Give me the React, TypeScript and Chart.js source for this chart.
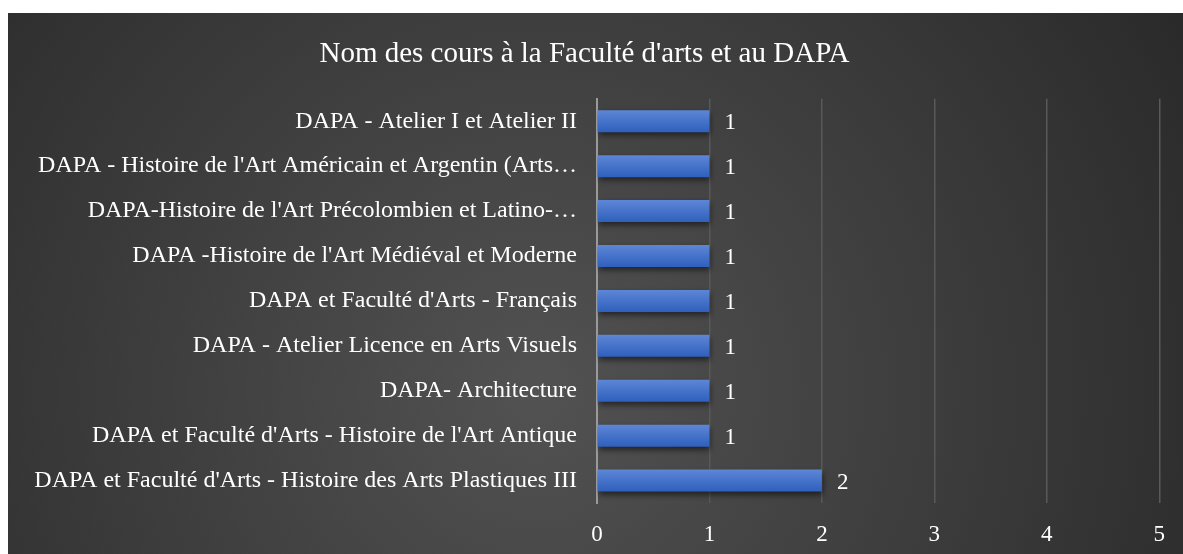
import React, { useEffect, useRef } from "react";
import { Chart, registerables } from "chart.js";

Chart.register(...registerables);

const categories = [
  "DAPA - Atelier I et Atelier II",
  "DAPA - Histoire de l'Art Américain et Argentin (Arts…",
  "DAPA-Histoire de l'Art Précolombien et Latino-…",
  "DAPA -Histoire de l'Art Médiéval et Moderne",
  "DAPA et Faculté d'Arts - Français",
  "DAPA - Atelier Licence en Arts Visuels",
  "DAPA- Architecture",
  "DAPA et Faculté d'Arts - Histoire de l'Art Antique",
  "DAPA et Faculté d'Arts - Histoire des Arts Plastiques III",
];
const values = [1, 1, 1, 1, 1, 1, 1, 1, 2];
const xTicks = [0, 1, 2, 3, 4, 5];
const title = "Nom des cours à la Faculté d'arts et au DAPA";

const FONT = "'Liberation Serif', 'Times New Roman', serif";

const bgPlugin = {
  id: "bg",
  beforeDraw(chart: any) {
    const { ctx, width, height } = chart;
    ctx.save();
    const g = ctx.createRadialGradient(width * 0.45, height * 0.7, 0, width * 0.45, height * 0.7, width * 0.7);
    g.addColorStop(0, "#525252");
    g.addColorStop(1, "#262626");
    ctx.fillStyle = g;
    ctx.fillRect(0, 0, width, height);
    ctx.restore();
  },
  beforeDatasetsDraw(chart: any) {
    const ctx = chart.ctx;
    ctx.save();
    ctx.shadowColor = "rgba(0,0,0,0.55)";
    ctx.shadowBlur = 6;
    ctx.shadowOffsetY = 3;
    ctx.shadowOffsetX = 1;
  },
  afterDatasetsDraw(chart: any) {
    const ctx = chart.ctx;
    ctx.restore();
    const meta = chart.getDatasetMeta(0);
    ctx.save();
    ctx.fillStyle = "#ffffff";
    ctx.font = `23px ${FONT}`;
    ctx.textAlign = "left";
    ctx.textBaseline = "middle";
    meta.data.forEach((bar: any, i: number) => {
      ctx.fillText(String(values[i]), bar.x + 15, bar.y + 2);
    });
    ctx.restore();
  },
};

export default function App() {
  const ref = useRef<HTMLCanvasElement>(null);
  useEffect(() => {
    if (!ref.current) return;
    const chart = new Chart(ref.current, {
      type: "bar",
      data: {
        labels: categories,
        datasets: [
          {
            data: values,
            backgroundColor: (c: any) => {
              const ch = c.chart;
              const ys = ch.scales?.y;
              if (!ys || c.dataIndex === undefined) return "#4472c4";
              const y = ys.getPixelForValue(c.dataIndex);
              if (!isFinite(y)) return "#4472c4";
              const g = ch.ctx.createLinearGradient(0, y - 11, 0, y + 11);
              g.addColorStop(0, "#5d86d6");
              g.addColorStop(1, "#2f60bd");
              return g;
            },
            borderWidth: 0,
            barPercentage: 1,
            categoryPercentage: 0.49,
          },
        ],
      },
      options: {
        indexAxis: "y",
        animation: false,
        responsive: false,
        layout: { padding: { left: 0, right: 22, top: 0, bottom: 0 } },
        plugins: {
          legend: { display: false },
          tooltip: { enabled: false },
          title: {
            display: true,
            text: title,
            color: "#ffffff",
            font: { family: FONT, size: 29, weight: "normal" },
            padding: { top: 24, bottom: 27 },
          },
        },
        scales: {
          x: {
            min: 0,
            max: 5,
            afterBuildTicks: (s: any) => {
              s.ticks = xTicks.map((v) => ({ value: v }));
            },
            afterFit: (s: any) => {
              s.height = 51;
            },
            grid: { color: "#595959", lineWidth: 1.5, drawTicks: false },
            border: { display: false },
            ticks: { color: "#ffffff", font: { family: FONT, size: 23 }, padding: 18 },
          },
          y: {
            grid: { display: false, drawTicks: false },
            border: { display: true, color: "#9a9a9a", width: 2 },
            afterFit: (s: any) => {
              s.width = 589;
            },
            ticks: { color: "#ffffff", font: { family: FONT, size: 24 }, padding: 20, autoSkip: false },
          },
        },
      },
      plugins: [bgPlugin],
    } as any);
    return () => chart.destroy();
  }, []);
  return (
    <div style={{ position: "fixed", left: 8, top: 13, width: 1175, height: 541 }}>
      <canvas ref={ref} width={1175} height={541} style={{ display: "block", width: 1175, height: 541 }} />
    </div>
  );
}
